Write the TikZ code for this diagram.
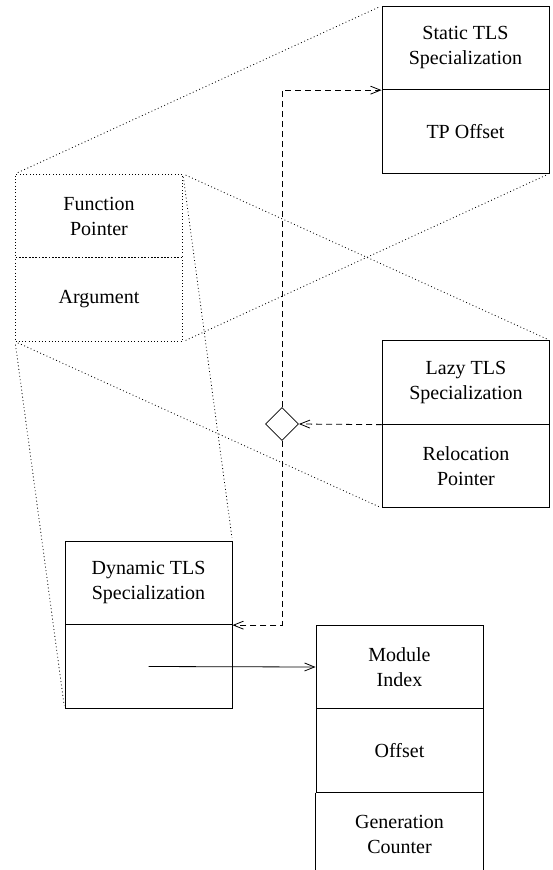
\documentclass[tikz,border=0pt]{standalone}
\usepackage{fontspec}
\setmainfont{Liberation Serif}
\usetikzlibrary{arrows.meta,shapes.geometric}
\begin{document}
\begin{tikzpicture}[x=1pt,y=-1pt,
  cell/.style={draw, line width=0.8pt, minimum width=167pt, minimum height=83.5pt,
    align=center, font=\fontsize{20}{25}\selectfont, inner sep=0pt},
  dotcell/.style={cell, dash pattern=on 0.9pt off 2.4pt},
  proj/.style={line width=0.8pt, dash pattern=on 0.9pt off 2.6pt, shorten <=3pt, shorten >=3pt},
  dep/.style={line width=0.8pt, dash pattern=on 6pt off 4pt, -{Straight Barb[length=10pt,width=8pt]}},
  link/.style={line width=0.8pt, -{Straight Barb[length=10pt,width=8pt]}},
  choice/.style={draw, diamond, line width=0.8pt, minimum width=33pt, minimum height=33pt, inner sep=0pt}]
\useasboundingbox (0,0) rectangle (552,870);

% Static TLS
\node[cell] (st1) at (465.5,48) {Static TLS\\Specialization};
\node[cell] (st2) at (465.5,131.5) {TP Offset};
% Function/Argument (dotted)
\node[dotcell] (fp) at (99,216) {Function\\Pointer};
\node[dotcell] (arg) at (99,299.5) {Argument};
% Lazy TLS
\node[cell] (lz1) at (466,382.5) {Lazy TLS\\Specialization};
\node[cell] (lz2) at (466,466) {Relocation\\Pointer};
% Dynamic TLS
\node[cell] (dy1) at (148.5,583) {Dynamic TLS\\Specialization};
\node[cell] (dy2) at (148.5,666.5) {};
% Module record
\node[cell] (mi) at (399.5,667) {Module\\Index};
\node[cell] (of) at (399.5,750.5) {Offset};
\node[align=center, font=\fontsize{20}{25}\selectfont, inner sep=0pt] (gc) at (399.5,834) {Generation\\Counter};
\coordinate (gcl) at (of.south west |- 0,871);
\coordinate (gcr) at (of.south east |- 0,871);
\draw[line width=0.8pt] (of.south west) -- (gcl);
\draw[line width=0.8pt] (of.south east) -- (gcr);

% projection lines
\draw[proj] (fp.north west) -- (st1.north west);
\draw[proj] (arg.south east) -- (st2.south east);
\draw[proj] (fp.north east) -- (lz1.north east);
\draw[proj] (arg.south west) -- (lz2.south west);
\draw[proj] (fp.north east) -- (dy1.north east);
\draw[proj] (arg.south west) -- (dy2.south west);

% diamond and dashed connectors
\node[choice] (dm) at (282,424) {};
\draw[dep] (lz1.south west) -- (dm.east);
\draw[dep] (dm.north) |- (st1.south west);
\draw[dep] (dm.south) |- (dy1.south east);

% pointer
\draw[link] (dy2.center) -- (mi.west);
\end{tikzpicture}
\end{document}
